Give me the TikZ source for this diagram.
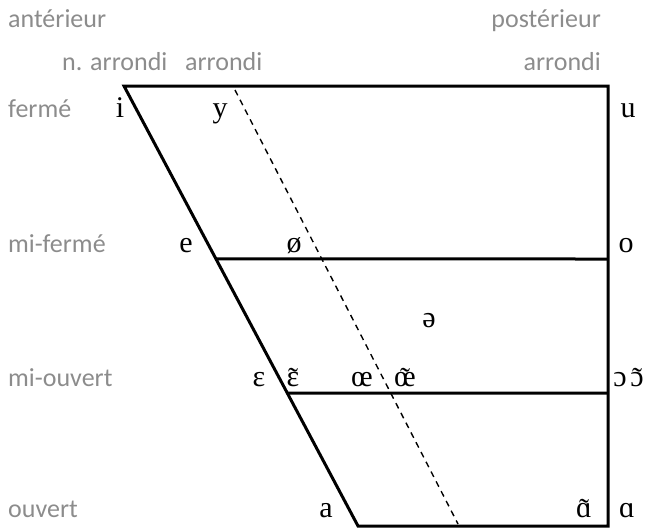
\documentclass[tikz,border=0pt]{standalone}
\usepackage{fontspec}
\usetikzlibrary{calc}
\setmainfont{Liberation Serif}
\newfontfamily\labfont{Carlito}
\definecolor{labgray}{HTML}{8C8C8C}
\newcommand{\nasal}[1]{\ooalign{#1\cr\hidewidth\raisebox{-0.08em}{˜}\hidewidth\cr}}
\begin{document}
\begin{tikzpicture}[x=1pt,y=-1pt,
  lab/.style={font=\labfont\fontsize{26}{28}\selectfont, text=labgray, inner sep=0pt},
  vow/.style={font=\fontsize{30}{32}\selectfont, inner sep=0pt, anchor=base},
  frame/.style={line width=3pt, line join=miter},
  dashln/.style={line width=1.4pt, dash pattern=on 6pt off 5pt}]
\useasboundingbox (0,0) rectangle (653,528);
% corners
\coordinate (TL) at (124,86);
\coordinate (TR) at (608,86);
\coordinate (BR) at (608,526);
\coordinate (BL) at (358,526);
\coordinate (MF) at ($(TL)!0.393!(BL)$);
\coordinate (MO) at ($(TL)!0.698!(BL)$);
\coordinate (MFR) at (608,259);
\coordinate (MOR) at (608,393);
\coordinate (D1) at (235,90);
\coordinate (D2) at (458,524);
\draw[frame] (BL) -- (TL) -- (TR) -- (BR) -- cycle;
\draw[frame] (MF) -- (MFR);
\draw[frame] (MO) -- (MOR);
\draw[dashln] (D1) -- (D2);
% gray labels
\node[lab, anchor=base west] (ant) at (8,27) {antérieur};
\node[lab, anchor=base east] (post) at (601,27) {postérieur};
\node[lab, anchor=base west] (nar) at (62,70) {n. arrondi};
\node[lab, anchor=base west] (ar) at (185,70) {arrondi};
\node[lab, anchor=base east] (arr) at (601,70) {arrondi};
\node[lab, anchor=base west] (fe) at (8,117) {fermé};
\node[lab, anchor=base west] (mfe) at (8,252) {mi-fermé};
\node[lab, anchor=base west] (mou) at (8,386) {mi-ouvert};
\node[lab, anchor=base west] (ou) at (8,517) {ouvert};
% vowels
\node[vow] (i) at (120,117) {i};
\node[vow] (y) at (220,117) {y};
\node[vow] (u) at (628,117) {u};
\node[vow] (e) at (186,252) {e};
\node[vow] (oe) at (294,252) {ø};
\node[vow] (o) at (626,252) {o};
\node[vow] (schwa) at (429,327) {ə};
\node[vow] (eps) at (259,386) {ɛ};
\node[vow] (epsn) at (293,386) {\nasal{ɛ}};
\node[vow] (oel) at (362,386) {œ};
\node[vow] (oen) at (405,386) {\nasal{œ}};
\node[vow] (oo) at (620,386) {ɔ};
\node[vow] (oon) at (637,386) {\nasal{ɔ}};
\node[vow] (a) at (326,517) {a};
\node[vow] (aan) at (584,517) {\nasal{ɑ}};
\node[vow] (aa) at (627,517) {ɑ};
\end{tikzpicture}
\end{document}
